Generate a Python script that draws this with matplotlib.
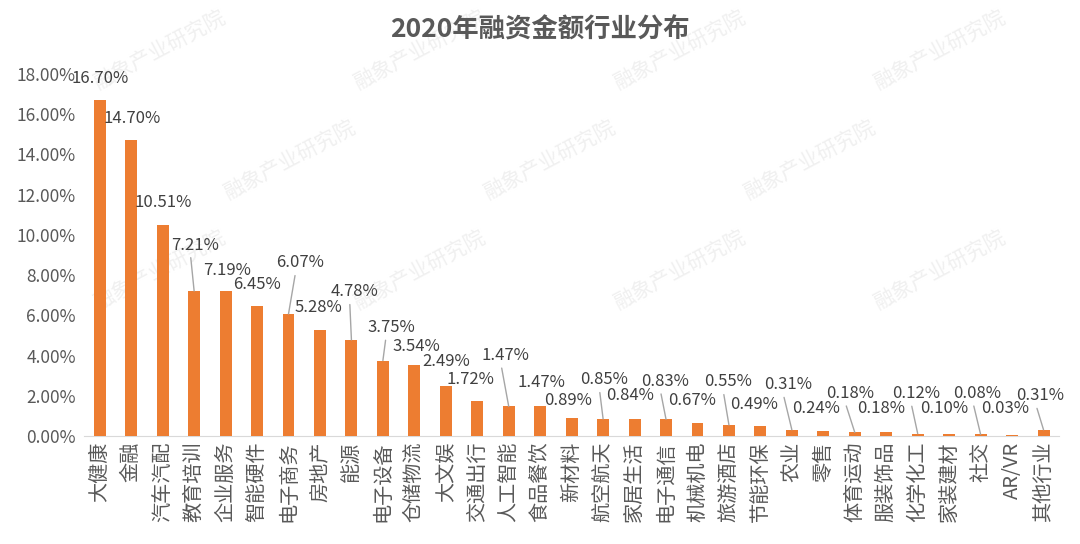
import numpy as np
import matplotlib
matplotlib.use("Agg")
import matplotlib.pyplot as plt

plt.rcParams['font.family'] = ['Noto Sans CJK SC', 'DejaVu Sans']

# data
industries = ["大健康", "金融", "汽车汽配", "教育培训", "企业服务", "智能硬件", "电子商务",
              "房地产", "能源", "电子设备", "仓储物流", "大文娱", "交通出行", "人工智能",
              "食品餐饮", "新材料", "航空航天", "家居生活", "电子通信", "机械机电", "旅游酒店",
              "节能环保", "农业", "零售", "体育运动", "服装饰品", "化学化工", "家装建材",
              "社交", "AR/VR", "其他行业"]
shares = [16.70, 14.70, 10.51, 7.21, 7.19, 6.45, 6.07, 5.28, 4.78, 3.75, 3.54, 2.49,
          1.72, 1.47, 1.47, 0.89, 0.85, 0.84, 0.83, 0.67, 0.55, 0.49, 0.31, 0.24,
          0.18, 0.18, 0.12, 0.10, 0.08, 0.03, 0.31]

# label offsets from bar top (pixels), and whether a leader line is drawn
label_dx = [0, 1, 1, 1, 1, 0, 12, -2, 3, 8, 2, 0, -7, -3, 1, -4, 1, -5, -1, -5, -1,
            -6, -4, -7, -5, -5, -2, -5, -3, -7, -3]
label_dy = [22, 22, 22, 46, 21, 22, 51, 22, 48, 33, 18, 24, 22, 51, 24, 18, 39, 24,
            38, 22, 43, 22, 45, 23, 39, 24, 40, 26, 41, 27, 34]
leader = [0, 0, 0, 1, 0, 0, 1, 0, 1, 1, 0, 0, 0, 1, 0, 0, 1, 0, 1, 0, 1, 0, 1, 0,
          1, 0, 1, 0, 1, 0, 1]

fig = plt.figure(figsize=(10.8, 5.44), dpi=100)

# faint watermarks, kept behind the axes
wm_x = [160, 420, 680, 940, 290, 550, 810, 160, 420, 680, 940]
wm_y = [50, 50, 50, 50, 160, 160, 160, 270, 270, 270, 270]
for i in range(len(wm_x)):
    fig.text(wm_x[i] / 1080, 1 - wm_y[i] / 544, "融象产业研究院", rotation=28,
             ha="center", va="center", fontsize=15, color="#f0f0f0", zorder=-1)

ax = fig.add_axes([0.0778, 0.1985, 0.903, 0.6655])
ax.set_zorder(1)
ax.patch.set_alpha(0)

x = np.arange(len(industries))
ax.bar(x, shares, width=0.38, color="#ED7D31", zorder=3)

ax.set_xlim(-0.5, len(industries) - 0.5)
ax.set_ylim(0, 18)
ax.set_yticks(np.arange(0, 18.01, 2))
ax.set_yticklabels(["%.2f%%" % t for t in np.arange(0, 18.01, 2)],
                   fontsize=12.5, color="#595959")
ax.set_xticks(x)
ax.set_xticklabels(industries, rotation=90, fontsize=14.5, color="#595959")
ax.tick_params(axis="both", length=0)
ax.tick_params(axis="y", pad=6)
ax.tick_params(axis="x", pad=4)
for s in ["top", "right", "left"]:
    ax.spines[s].set_visible(False)
ax.spines["bottom"].set_color("#d9d9d9")

# value labels
for i, v in enumerate(shares):
    dx = label_dx[i] * 0.72
    dy = label_dy[i] * 0.72
    if leader[i]:
        ax.annotate("%.2f%%" % v, xy=(i, v), xytext=(dx, dy), textcoords="offset points",
                    ha="center", va="center", fontsize=12, color="#404040",
                    arrowprops=dict(arrowstyle="-", color="#a6a6a6", lw=1,
                                    shrinkA=1, shrinkB=0, relpos=(0.4, 0)),
                    zorder=4)
    else:
        ax.annotate("%.2f%%" % v, xy=(i, v), xytext=(dx, dy), textcoords="offset points",
                    ha="center", va="center", fontsize=12, color="#404040", zorder=4)

fig.text(0.5, 1 - 30 / 544, "2020年融资金额行业分布", ha="center", va="center",
         fontsize=19, fontweight="bold", color="#595959")

fig.savefig("out.png", dpi=100)
